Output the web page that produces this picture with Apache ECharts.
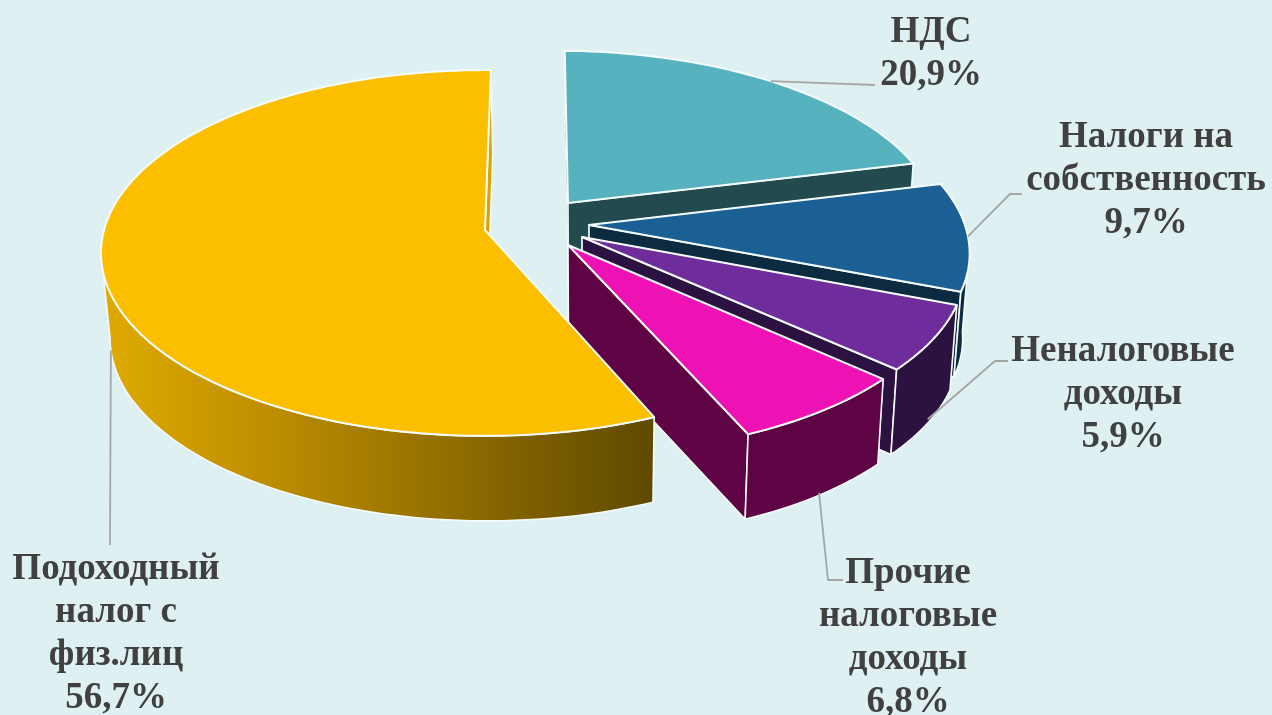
<!DOCTYPE html>
<html><head><meta charset="utf-8">
<style>html,body{margin:0;padding:0;background:#dff0f2}#c{width:1272px;height:715px}</style>
<script src="https://cdn.jsdelivr.net/npm/echarts@6/dist/echarts.min.js"></script>
</head><body><div id="c"></div>
<script>
// Data, clockwise from the top of the pie
const categories = ['НДС', 'Налоги на\nсобственность', 'Неналоговые\nдоходы', 'Прочие\nналоговые\nдоходы', 'Подоходный\nналог с\nфиз.лиц'];
const shares = [20.9, 9.7, 5.9, 6.8, 56.7];

// Styling and layout
const topColors = ['#57b2bf', '#1a6094', '#6f2d9c', '#ee12b4', '#fcbf00'];
const sideColors = ['#234a4f', '#0c2a40', '#2c1240', '#5e0344', null];
const wallColors = ['#234a4f', '#0c2a40', '#2c1240', '#5e0344', '#d8a500'];
const explode = [[0.222, -0.153], [0.274, -0.028], [0.2534, 0.0387], [0.2156, 0.0825], [0, 0]];
const radiusScale = [0.985, 0.99, 0.99, 0.99, 1];
const labelPos = [[931, 54], [1146, 180], [1123, 394], [908, 638], [116, 634]];
const leaderBend = [[[875, 85]], [[1010, 194], [1022, 194]], [[995, 361], [1008, 361]], [[828, 580], [843, 580]], [[110, 545]]];
const leaderDepth = [0, 0, 0.95, 0.97, 1];
const CX = 485, CY = 230, RX = 381, A = 180, K = 0.1257, DEPTH = 85, VX = 590, SHRINK = 0.0185, START = 1.0;
const RIM_FROM = 97, RIM_TO = 263;

function project(X, Y, z) {
  const s = 1 / (1 - K * Y);
  const x = CX + RX * X * s;
  return [VX + (x - VX) * (1 - SHRINK * z), CY + A * Y * s + DEPTH * z];
}
const total = shares.reduce((a, b) => a + b, 0);
function sliceAngles(i) {
  let acc = 0;
  for (let j = 0; j < i; j++) acc += shares[j];
  return [START + acc / total * 360, START + (acc + shares[i]) / total * 360];
}
function rimPoint(i, deg, z) {
  const t = deg * Math.PI / 180, o = explode[i], r = radiusScale[i];
  return project(o[0] + r * Math.sin(t), o[1] - r * Math.cos(t), z);
}
function arc(i, a0, a1, z) {
  const n = Math.max(2, Math.ceil(Math.abs(a1 - a0) / 1.5)), pts = [];
  for (let k = 0; k <= n; k++) pts.push(rimPoint(i, a0 + (a1 - a0) * k / n, z));
  return pts;
}
function apex(i, z) { return project(explode[i][0], explode[i][1], z); }

const goldSide = {
  type: 'linear', x: 101, y: 0, x2: 652, y2: 0, global: true,
  colorStops: [
    { offset: 0, color: '#dfab00' }, { offset: 0.25, color: '#c49300' },
    { offset: 0.55, color: '#9c7600' }, { offset: 0.8, color: '#7a5d00' }, { offset: 1, color: '#5f4a00' }
  ]
};
const edge = { stroke: '#f4fbfb', lineWidth: 1.6, lineJoin: 'round' };
const poly = (points, fill, extra) => ({ type: 'polygon', shape: { points }, style: Object.assign({ fill }, edge, extra || {}) });

function renderItem(params, api) {
  const i = params.dataIndex, value = api.value(0);
  const [a0, a1] = sliceAngles(i);
  const side = sideColors[i] || goldSide;
  const children = [];
  // radial walls
  children.push(poly([apex(i, 0), rimPoint(i, a0, 0), rimPoint(i, a0, 1), apex(i, 1)], wallColors[i], { lineWidth: 1 }));
  children.push(poly([apex(i, 0), rimPoint(i, a1, 0), rimPoint(i, a1, 1), apex(i, 1)], wallColors[i]));
  // outer rim, only where it faces the viewer
  const r0 = Math.max(a0, RIM_FROM), r1 = Math.min(a1, RIM_TO);
  if (r1 > r0) children.push(poly(arc(i, r0, r1, 0).concat(arc(i, r1, r0, 1)), side));
  // top face
  children.push(poly([apex(i, 0)].concat(arc(i, a0, a1, 0)), topColors[i], { lineWidth: 2 }));
  // leader line
  const mid = (a0 + a1) / 2;
  children.push({
    type: 'polyline', z2: 5,
    shape: { points: [rimPoint(i, mid, leaderDepth[i])].concat(leaderBend[i]) },
    style: { stroke: '#a6a6a6', lineWidth: 1.8, fill: null }
  });
  // label
  children.push({
    type: 'text', z2: 6, x: labelPos[i][0], y: labelPos[i][1],
    style: {
      text: categories[i] + '\n' + value.toFixed(1).replace('.', ',') + '%',
      fontFamily: '"Liberation Serif"', fontWeight: 'bold', fontSize: 37, lineHeight: 43,
      fill: '#404040', align: 'center', verticalAlign: 'middle'
    }
  });
  return { type: 'group', children };
}

const chart = echarts.init(document.getElementById('c'), null, { renderer: 'canvas' });
chart.setOption({
  animation: false,
  backgroundColor: '#dff0f2',
  series: [{
    type: 'custom', coordinateSystem: 'none', renderItem, clip: false,
    data: shares.map(v => [v])
  }]
});
</script></body></html>
